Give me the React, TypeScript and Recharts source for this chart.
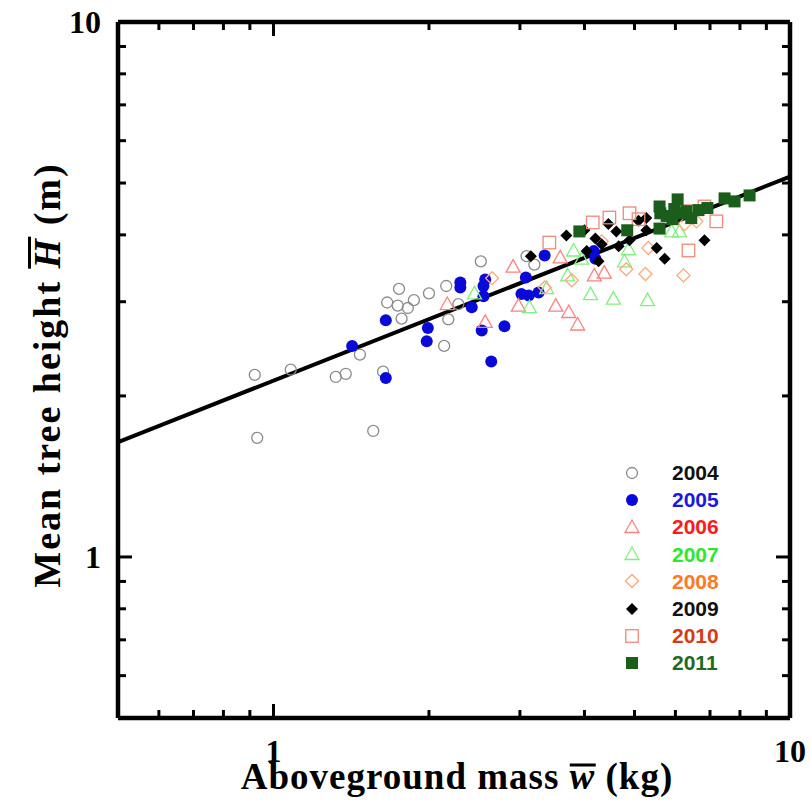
import { ScatterChart, Scatter, XAxis, YAxis, Legend } from "recharts";

// values (w in kg, H in m)
const years = ["2004", "2005", "2006", "2007", "2008", "2009", "2010", "2011"];

const w2004 = [0.92, 0.93, 1.08, 1.32, 1.38, 1.47, 1.63, 1.56, 1.66, 1.75, 1.74, 1.82, 1.87, 1.77, 2.0, 2.16, 2.28, 2.18, 2.14, 2.52, 3.09, 3.2];
const h2004 = [2.19, 1.67, 2.24, 2.17, 2.2, 2.39, 2.22, 1.72, 2.99, 3.17, 2.95, 2.92, 3.02, 2.79, 3.11, 3.21, 2.97, 2.78, 2.48, 3.57, 3.65, 3.52];

const w2005 = [1.42, 1.65, 1.65, 1.99, 1.98, 2.3, 2.3, 2.57, 2.55, 2.55, 2.42, 2.53, 2.8, 2.64, 3.08, 3.02, 3.12, 3.26, 3.35, 4.17, 4.2];
const h2005 = [2.48, 2.16, 2.77, 2.68, 2.53, 3.26, 3.19, 3.3, 3.21, 3.07, 2.93, 2.65, 2.7, 2.32, 3.33, 3.1, 3.08, 3.12, 3.66, 3.73, 3.61];

const w2006 = [2.17, 2.57, 2.91, 2.98, 3.52, 3.73, 3.88, 4.18, 4.37, 3.59];
const h2006 = [2.97, 2.75, 3.49, 2.95, 2.95, 2.87, 2.72, 3.36, 3.4, 3.63];

const w2007 = [2.45, 3.13, 3.38, 3.81, 3.71, 4.11, 4.55, 5.3, 4.78, 4.87, 3.95, 5.9, 6.11];
const h2007 = [3.11, 2.93, 3.18, 3.74, 3.36, 3.1, 3.04, 3.02, 3.57, 3.76, 3.61, 4.06, 4.06];

const w2008 = [2.65, 3.78, 4.82, 5.25, 6.22, 5.32, 6.25, 6.59, 3.35, 4.32];
const h2008 = [3.32, 3.29, 3.45, 3.38, 3.36, 3.78, 4.19, 4.24, 3.19, 3.89];

const w2009 = [3.15, 3.69, 4.0, 4.45, 4.61, 5.09, 5.27, 5.27, 4.2, 4.32, 4.89, 4.66, 4.04, 4.26, 5.52, 5.72, 6.83];
const h2009 = [3.65, 3.99, 4.08, 4.19, 4.06, 4.25, 4.3, 4.08, 3.94, 3.84, 3.91, 3.81, 3.73, 3.57, 3.78, 3.61, 3.91];

const w2010 = [3.42, 4.15, 4.47, 4.89, 5.09, 6.36, 6.83, 7.2, 6.36];
const h2010 = [3.87, 4.22, 4.31, 4.39, 4.28, 4.43, 4.52, 4.24, 3.74];

const w2011 = [3.91, 4.84, 5.59, 5.61, 6.06, 5.97, 5.92, 5.59, 6.3, 6.44, 6.65, 6.92, 7.47, 7.81, 8.35, 5.77, 6.17];
const h2011 = [4.06, 4.08, 4.52, 4.39, 4.66, 4.47, 4.28, 4.11, 4.43, 4.3, 4.45, 4.49, 4.68, 4.62, 4.74, 4.34, 4.39];

// fitted power law, end points read at the plot edges
const fitW = [0.5, 10];
const fitH = [1.64, 5.14];

const labelTicks = [1, 10];
const majorTicks = [1];
const minorTicks = [0.6, 0.7, 0.8, 0.9, 2, 3, 4, 5, 6, 7, 8, 9];
const allTicks = [0.6, 0.7, 0.8, 0.9, 1, 2, 3, 4, 5, 6, 7, 8, 9, 10];

const toPoints = (w: number[], h: number[]) => w.map((v, i) => ({ w: v, h: h[i] }));

const seriesData = [
  toPoints(w2004, h2004),
  toPoints(w2005, h2005),
  toPoints(w2006, h2006),
  toPoints(w2007, h2007),
  toPoints(w2008, h2008),
  toPoints(w2009, h2009),
  toPoints(w2010, h2010),
  toPoints(w2011, h2011),
];

const looks = [
  { marker: "circle", color: "#8a8a8a", filled: false, text: "#111111" },
  { marker: "circle", color: "#0a0ad8", filled: true, text: "#1a1ae0" },
  { marker: "triangle", color: "#ff8080", filled: false, text: "#ff1a1a" },
  { marker: "triangle", color: "#80f080", filled: false, text: "#2ee82e" },
  { marker: "diamond", color: "#ffa878", filled: false, text: "#ff7a22" },
  { marker: "diamond", color: "#000000", filled: true, text: "#111111" },
  { marker: "square", color: "#f08878", filled: false, text: "#d83a18" },
  { marker: "square", color: "#1b5e1b", filled: true, text: "#1f6a1f" },
];

const serif = '"Liberation Serif", "Times New Roman", serif';
const sans = '"Liberation Sans", Arial, sans-serif';
const frame = { stroke: "#000", strokeWidth: 4.5 };
const domain: [number, number] = [0.5, 10];

function drawMarker(kind: string, color: string, filled: boolean, cx: number, cy: number) {
  const fill = filled ? color : "none";
  const sw = filled ? 0 : 1.3;
  if (kind === "circle") {
    return <circle cx={cx} cy={cy} r={filled ? 6 : 5.5} fill={fill} stroke={color} strokeWidth={sw} />;
  }
  if (kind === "triangle") {
    const pts = `${cx},${cy - 7} ${cx - 7},${cy + 5.5} ${cx + 7},${cy + 5.5}`;
    return <polygon points={pts} fill={fill} stroke={color} strokeWidth={sw} />;
  }
  if (kind === "diamond") {
    const d = filled ? 6 : 6.5;
    const pts = `${cx},${cy - d} ${cx + d},${cy} ${cx},${cy + d} ${cx - d},${cy}`;
    return <polygon points={pts} fill={fill} stroke={color} strokeWidth={sw} />;
  }
  const s = filled ? 12 : 12.5;
  return <rect x={cx - s / 2} y={cy - s / 2} width={s} height={s} fill={fill} stroke={color} strokeWidth={sw} />;
}

// inward tick marks on every side, labels only on bottom/left
const makeTick = (side: string) => (props: any) => {
  const { x, y, payload } = props;
  const v = payload.value;
  const len = majorTicks.includes(v) ? 14 : minorTicks.includes(v) ? 8 : 0;
  const showLabel = labelTicks.includes(v);
  const font = { fontFamily: serif, fontWeight: "bold", fontSize: 32, fill: "#000" } as const;
  if (side === "bottom") {
    return (
      <g>
        {len > 0 && <line x1={x} y1={y} x2={x} y2={y - len} stroke="#000" strokeWidth={3} />}
        {showLabel && (
          <text x={x} y={y + 21} dy="0.71em" textAnchor="middle" {...font}>
            {v}
          </text>
        )}
      </g>
    );
  }
  if (side === "left") {
    return (
      <g>
        {len > 0 && <line x1={x} y1={y} x2={x + len} y2={y} stroke="#000" strokeWidth={3} />}
        {showLabel && (
          <text x={x - 17} y={y} dy="0.355em" textAnchor="end" {...font}>
            {v}
          </text>
        )}
      </g>
    );
  }
  if (side === "top") {
    return len > 0 ? <line x1={x} y1={y} x2={x} y2={y + len} stroke="#000" strokeWidth={3} /> : <g />;
  }
  return len > 0 ? <line x1={x} y1={y} x2={x - len} y2={y} stroke="#000" strokeWidth={3} /> : <g />;
};

function YearLegend() {
  return (
    <div style={{ fontFamily: sans, fontWeight: "bold", fontSize: 21 }}>
      {years.map((y, i) => (
        <div key={y} style={{ display: "flex", alignItems: "center", height: 27.2 }}>
          <svg width={30} height={20}>
            {drawMarker(looks[i].marker, looks[i].color, looks[i].filled, 15, 10)}
          </svg>
          <span style={{ marginLeft: 25, color: looks[i].text, lineHeight: 1 }}>{y}</span>
        </div>
      ))}
    </div>
  );
}

const bar = (lh: number) => ({
  display: "inline-block",
  fontStyle: "italic",
  lineHeight: lh,
  borderTop: "3px solid #000",
});

export default function App() {
  return (
    <div style={{ position: "absolute", left: 0, top: 0, width: 811, height: 807, background: "#fff" }}>
      <ScatterChart width={811} height={807} margin={{ top: 21, right: 20, bottom: 49, left: 58 }}>
        <XAxis
          xAxisId="x"
          dataKey="w"
          type="number"
          scale="log"
          domain={domain}
          allowDataOverflow
          ticks={allTicks}
          interval={0}
          tickLine={false}
          axisLine={frame}
          tick={makeTick("bottom")}
          tickSize={0}
          tickMargin={0}
          height={40}
        />
        <YAxis
          yAxisId="y"
          dataKey="h"
          type="number"
          scale="log"
          domain={domain}
          allowDataOverflow
          ticks={allTicks}
          interval={0}
          tickLine={false}
          axisLine={frame}
          tick={makeTick("left")}
          tickSize={0}
          tickMargin={0}
          width={60}
        />
        <XAxis
          xAxisId="top"
          orientation="top"
          dataKey="w"
          type="number"
          scale="log"
          domain={domain}
          allowDataOverflow
          ticks={allTicks}
          interval={0}
          tickLine={false}
          axisLine={frame}
          tick={makeTick("top")}
          tickSize={0}
          tickMargin={0}
          height={1}
        />
        <YAxis
          yAxisId="right"
          orientation="right"
          dataKey="h"
          type="number"
          scale="log"
          domain={domain}
          allowDataOverflow
          ticks={allTicks}
          interval={0}
          tickLine={false}
          axisLine={frame}
          tick={makeTick("right")}
          tickSize={0}
          tickMargin={0}
          width={1}
        />
        <Scatter
          xAxisId="top"
          yAxisId="right"
          data={toPoints(fitW, fitH)}
          shape={() => <g />}
          legendType="none"
          isAnimationActive={false}
        />
        <Scatter
          xAxisId="x"
          yAxisId="y"
          data={toPoints(fitW, fitH)}
          line={{ stroke: "#000", strokeWidth: 4 }}
          shape={() => <g />}
          legendType="none"
          isAnimationActive={false}
        />
        {seriesData.map((d, i) => (
          <Scatter
            key={years[i]}
            name={years[i]}
            xAxisId="x"
            yAxisId="y"
            data={d}
            shape={(p: any) => drawMarker(looks[i].marker, looks[i].color, looks[i].filled, p.cx, p.cy)}
            isAnimationActive={false}
          />
        ))}
        <Legend
          layout="vertical"
          align="center"
          verticalAlign="middle"
          content={() => <YearLegend />}
          wrapperStyle={{ left: 617, top: 459, width: 140 }}
        />
      </ScatterChart>
      <div
        style={{
          position: "absolute",
          left: 457,
          top: 776,
          transform: "translate(-50%, -50%)",
          whiteSpace: "nowrap",
          fontFamily: serif,
          fontWeight: "bold",
          fontSize: 37,
          letterSpacing: 1,
          lineHeight: 1,
        }}
      >
        Aboveground mass <span style={bar(0.55)}>w</span> (kg)
      </div>
      <div
        style={{
          position: "absolute",
          left: 47,
          top: 375,
          transform: "translate(-50%, -50%) rotate(-90deg)",
          whiteSpace: "nowrap",
          fontFamily: serif,
          fontWeight: "bold",
          fontSize: 38,
          letterSpacing: 2,
          lineHeight: 1,
        }}
      >
        Mean tree height <span style={bar(0.88)}>H</span> (m)
      </div>
    </div>
  );
}
